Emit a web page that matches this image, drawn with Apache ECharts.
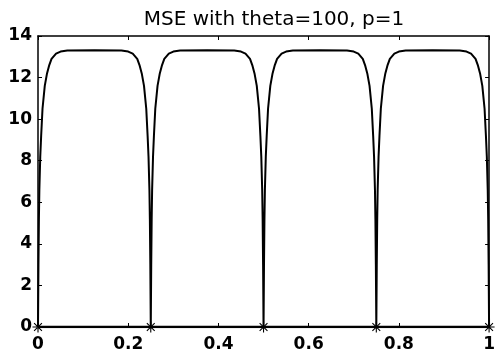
<!DOCTYPE html>
<html>
<head>
<meta charset="utf-8">
<script src="https://cdn.jsdelivr.net/npm/echarts@6/dist/echarts.min.js"></script>
<style>html,body{margin:0;padding:0;background:#fff}#c{width:498px;height:361px}</style>
</head>
<body>
<div id="c"></div>
<script>
var titleText = 'MSE with theta=100, p=1';
var xTicks = [0, 0.2, 0.4, 0.6, 0.8, 1];
var yTicks = [0, 2, 4, 6, 8, 10, 12, 14];
// MSE curve (x, y)
var mseX = [
  0, 0.001, 0.002, 0.003, 0.005, 0.007, 0.010, 0.015, 0.020, 0.025, 0.030, 0.040, 0.050, 0.065, 0.125,
  0.185, 0.200, 0.210, 0.220, 0.225, 0.230, 0.235, 0.240, 0.243, 0.245, 0.247, 0.248, 0.249, 0.250,
  0.251, 0.252, 0.253, 0.255, 0.257, 0.260, 0.265, 0.270, 0.275, 0.280, 0.290, 0.300, 0.315, 0.375,
  0.435, 0.450, 0.460, 0.470, 0.475, 0.480, 0.485, 0.490, 0.493, 0.495, 0.497, 0.498, 0.499, 0.500,
  0.501, 0.502, 0.503, 0.505, 0.507, 0.510, 0.515, 0.520, 0.525, 0.530, 0.540, 0.550, 0.565, 0.625,
  0.685, 0.700, 0.710, 0.720, 0.725, 0.730, 0.735, 0.740, 0.743, 0.745, 0.747, 0.748, 0.749, 0.750,
  0.751, 0.752, 0.753, 0.755, 0.757, 0.760, 0.765, 0.770, 0.775, 0.780, 0.790, 0.800, 0.815, 0.875,
  0.935, 0.950, 0.960, 0.970, 0.975, 0.980, 0.985, 0.990, 0.993, 0.995, 0.997, 0.998, 0.999, 1.000
];
var mseY = [
  0, 3.0, 5.2, 6.6, 8.2, 9.2, 10.5, 11.6, 12.2, 12.6, 12.9, 13.15, 13.25, 13.3, 13.32,
  13.3, 13.25, 13.15, 12.9, 12.6, 12.2, 11.6, 10.5, 9.2, 8.2, 6.6, 5.2, 3.0, 0,
  3.0, 5.2, 6.6, 8.2, 9.2, 10.5, 11.6, 12.2, 12.6, 12.9, 13.15, 13.25, 13.3, 13.32,
  13.3, 13.25, 13.15, 12.9, 12.6, 12.2, 11.6, 10.5, 9.2, 8.2, 6.6, 5.2, 3.0, 0,
  3.0, 5.2, 6.6, 8.2, 9.2, 10.5, 11.6, 12.2, 12.6, 12.9, 13.15, 13.25, 13.3, 13.32,
  13.3, 13.25, 13.15, 12.9, 12.6, 12.2, 11.6, 10.5, 9.2, 8.2, 6.6, 5.2, 3.0, 0,
  3.0, 5.2, 6.6, 8.2, 9.2, 10.5, 11.6, 12.2, 12.6, 12.9, 13.15, 13.25, 13.3, 13.32,
  13.3, 13.25, 13.15, 12.9, 12.6, 12.2, 11.6, 10.5, 9.2, 8.2, 6.6, 5.2, 3.0, 0
];
// star markers
var starX = [0, 0.25, 0.5, 0.75, 1];
var starY = [0, 0, 0, 0, 0];

var mseData = mseX.map(function (x, i) { return [x, mseY[i]]; });
var starData = starX.map(function (x, i) { return [x, starY[i]]; });

var asterisk = 'path://M9,0h2v20h-2z M0,9h20v2h-20z M2.2,3.6l1.4,-1.4l14.2,14.2l-1.4,1.4z M17.8,3.6l-1.4,-1.4l-14.2,14.2l1.4,1.4z';

var font = '"DejaVu Sans", Verdana, sans-serif';
var chart = echarts.init(document.getElementById('c'), null, {renderer: 'canvas'});
var axisCommon = {
  min: 0,
  axisLine: {show: true, onZero: false, lineStyle: {color: '#000', width: 1.5}},
  axisTick: {show: true, inside: true, length: 4, lineStyle: {color: '#000', width: 1}},
  splitLine: {show: false}
};
chart.setOption({
  animation: false,
  backgroundColor: '#fff',
  title: {
    text: titleText, left: 269, top: 5, textAlign: 'center',
    textStyle: {fontFamily: font, fontSize: 20, fontWeight: 'normal', color: '#000'}
  },
  grid: {left: 38, right: 6, top: 36, bottom: 34},
  xAxis: [
    Object.assign({}, axisCommon, {
      type: 'value', position: 'bottom', max: 1, interval: 0.2,
      axisLabel: {show: true, color: '#000', fontFamily: font, fontSize: 17, fontWeight: 'bold', margin: 9,
        formatter: function (v) { var r = Math.round(v * 10) / 10; return xTicks.indexOf(r) >= 0 ? String(r) : ''; }}
    }),
    Object.assign({}, axisCommon, {
      type: 'value', position: 'top', max: 1, interval: 0.2, axisLabel: {show: false}
    })
  ],
  yAxis: [
    Object.assign({}, axisCommon, {
      type: 'value', position: 'left', max: 14, interval: 2,
      axisLabel: {show: true, color: '#000', fontFamily: font, fontSize: 17, fontWeight: 'bold', margin: 6,
        formatter: function (v) { return yTicks.indexOf(v) >= 0 ? String(v) : ''; }}
    }),
    Object.assign({}, axisCommon, {
      type: 'value', position: 'right', max: 14, interval: 2, axisLabel: {show: false}
    })
  ],
  series: [
    {
      type: 'line', data: mseData, xAxisIndex: 0, yAxisIndex: 0,
      showSymbol: false, smooth: false,
      lineStyle: {color: '#000', width: 2}
    },
    {
      type: 'line', data: starData, xAxisIndex: 0, yAxisIndex: 0,
      symbol: asterisk, symbolSize: 11, showSymbol: true,
      itemStyle: {color: '#000'},
      lineStyle: {color: '#000', width: 2.5}
    }
  ]
});
</script>
</body>
</html>
